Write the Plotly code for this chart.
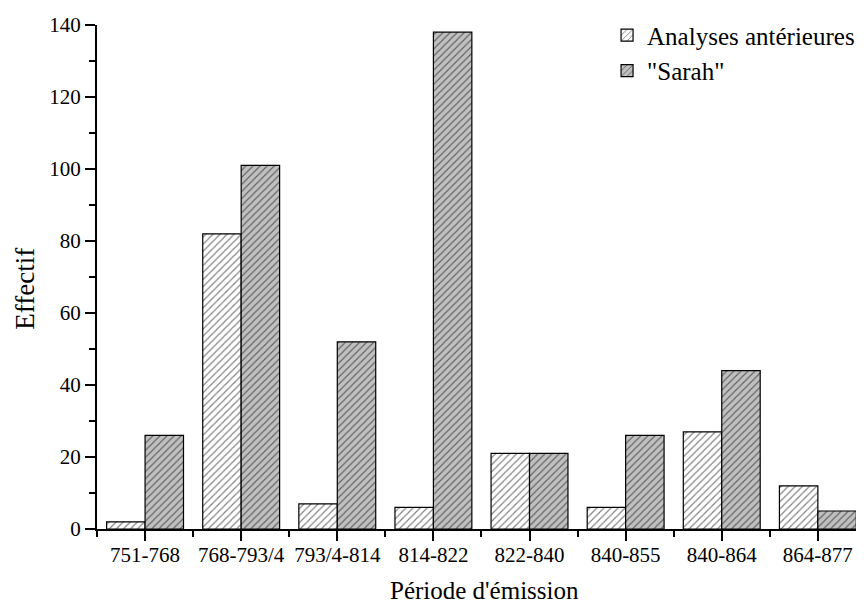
import plotly.graph_objects as go

categories = ["751-768", "768-793/4", "793/4-814", "814-822", "822-840", "840-855", "840-864", "864-877"]
analyses = [2, 82, 7, 6, 21, 6, 27, 12]
sarah = [26, 101, 52, 138, 21, 26, 44, 5]
x_pos = list(range(len(categories)))

FONT = "Liberation Serif, Times New Roman, serif"

fig = go.Figure()
fig.add_trace(go.Bar(
    x=x_pos, y=analyses, name="Analyses antérieures",
    marker=dict(color="white", line=dict(color="black", width=1.2),
                pattern=dict(shape="/", fgcolor="black", bgcolor="white", size=5, solidity=0.22)),
))
fig.add_trace(go.Bar(
    x=x_pos, y=sarah, name='"Sarah"',
    marker=dict(color="#c0c0c0", line=dict(color="black", width=1.2),
                pattern=dict(shape="/", fgcolor="black", bgcolor="#c0c0c0", size=5, solidity=0.22)),
))

# The page body adds an 8px offset, so the figure is 8px smaller on each axis.
fig.update_layout(
    width=856, height=597,
    margin=dict(l=89, r=0, t=17, b=76),
    paper_bgcolor="white", plot_bgcolor="white",
    barmode="group", bargap=0.2, bargroupgap=0,
    font=dict(family=FONT, color="black", size=21),
    showlegend=True,
    legend=dict(x=0.665, y=1.025, xanchor="left", yanchor="top",
                font=dict(size=25, family=FONT), bgcolor="rgba(0,0,0,0)",
                tracegroupgap=0),
    annotations=[
        dict(text="Période d'émission", xref="paper", yref="paper", x=0.505, y=-0.122,
             xanchor="center", yanchor="middle", showarrow=False,
             font=dict(size=25, family=FONT, color="black")),
        dict(text="Effectif", xref="paper", yref="paper", x=-0.095, y=0.477,
             xanchor="center", yanchor="middle", showarrow=False, textangle=-90,
             font=dict(size=27, family=FONT, color="black")),
    ],
)
fig.update_xaxes(
    range=[-0.5, 7.48], tickmode="array", tickvals=x_pos, ticktext=categories,
    automargin=False,
    showline=True, linecolor="black", linewidth=2, showgrid=False, zeroline=False,
    ticks="outside", ticklen=10, tickwidth=2, tickcolor="black",
    minor=dict(tick0=0.5, dtick=1, ticks="outside", ticklen=6, tickwidth=2, tickcolor="black"),
    tickfont=dict(size=21, family=FONT), ticklabelstandoff=-4,
)
fig.update_yaxes(
    range=[0, 140], tickmode="linear", tick0=0, dtick=20,
    automargin=False,
    showline=True, linecolor="black", linewidth=2, showgrid=False, zeroline=False,
    ticks="outside", ticklen=10, tickwidth=2, tickcolor="black",
    minor=dict(dtick=10, ticks="outside", ticklen=6, tickwidth=2, tickcolor="black"),
    tickfont=dict(size=21, family=FONT),
)

fig.write_html("out.html")
